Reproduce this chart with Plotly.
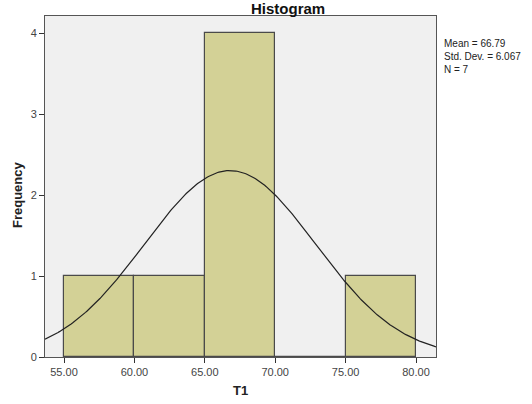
import numpy as np
import plotly.graph_objects as go

bin_centers = [57.5, 62.5, 67.5, 72.5, 77.5]
counts = [1, 1, 4, 0, 1]
bin_width = 5
mean_val = 66.79
std_val = 6.067
n_val = 7
x_ticks = [55, 60, 65, 70, 75, 80]
y_ticks = [0, 1, 2, 3, 4]

W, H = 532, 404
L, R, T, B = 45, 96, 16, 47
PW, PH = W - L - R, H - T - B
x_range = [53.65, 81.42]
y_range = [0, 4.21]


def px(x):
    return (x - L) / PW


def py(y):
    return 1 - (y - T) / PH


xs = np.linspace(x_range[0], x_range[1], 300)
ys = n_val * bin_width / (std_val * np.sqrt(2 * np.pi)) * np.exp(-0.5 * ((xs - mean_val) / std_val) ** 2)

fig = go.Figure()
fig.add_trace(go.Bar(
    x=bin_centers, y=counts, width=bin_width,
    marker=dict(color="#d3d196", line=dict(color="#4a4a4a", width=1.2)),
    showlegend=False, hoverinfo="skip"))
fig.add_trace(go.Scatter(
    x=xs, y=ys, mode="lines", line=dict(color="#222222", width=1.2),
    showlegend=False, hoverinfo="skip"))

font = "Liberation Sans, Arial, sans-serif"
fig.update_layout(
    width=W, height=H,
    margin=dict(l=L, r=R, t=T, b=B),
    paper_bgcolor="white", plot_bgcolor="#f0f0f0",
    font=dict(family=font, size=11, color="#333333"),
    bargap=0,
    xaxis=dict(range=x_range, tickvals=x_ticks, ticktext=[f"{v:.2f}" for v in x_ticks],
               ticks="outside", ticklen=5, tickcolor="#333333", showgrid=False, zeroline=False,
               showline=True, linecolor="#555555", mirror=True, linewidth=1,
               tickfont=dict(size=11, color="#444444")),
    yaxis=dict(range=y_range, tickvals=y_ticks, ticks="outside", ticklen=5, tickcolor="#333333",
               showgrid=False, zeroline=False, showline=True, linecolor="#555555", mirror=True,
               linewidth=1, tickfont=dict(size=11, color="#444444")),
    annotations=[
        dict(text="<b>Histogram</b>", x=px(288), y=py(8), xref="paper", yref="paper",
             showarrow=False, yanchor="middle", font=dict(size=15, color="#111111")),
        dict(text="<b>T1</b>", x=px(240), y=py(391), xref="paper", yref="paper",
             showarrow=False, font=dict(size=13, color="#222222"), yanchor="middle"),
        dict(text="<b>Frequency</b>", x=px(17), y=py(195), xref="paper", yref="paper",
             showarrow=False, textangle=-90, xanchor="center", yanchor="middle",
             font=dict(size=13, color="#222222")),
        dict(text="Mean = 66.79<br>Std. Dev. = 6.067<br>N = 7", x=px(442), y=py(36),
             xref="paper", yref="paper",
             showarrow=False, align="left", xanchor="left", yanchor="top",
             font=dict(size=10, color="#222222")),
    ],
)

fig.write_html("out.html")
